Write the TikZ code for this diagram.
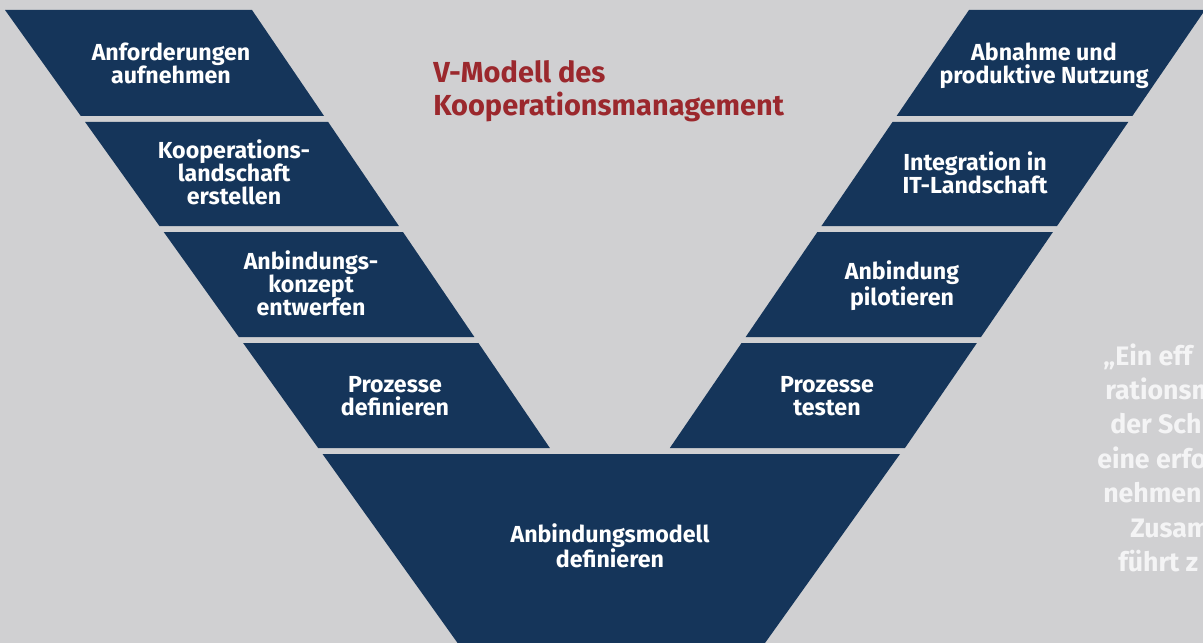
\documentclass[tikz,border=0pt]{standalone}
\usepackage{fontspec}
\setmainfont{Fira Sans}
\definecolor{vnavy}{HTML}{15355A}
\definecolor{vred}{HTML}{9B282D}
\definecolor{vgrey}{HTML}{D0D0D2}
\definecolor{vquote}{HTML}{F4F4F5}
\tikzset{
  every picture/.style={x=0.025cm, y=-0.025cm},
  block/.style={fill=vnavy},
  steptext/.style={text=white, font=\bfseries\fontsize{16.5}{16.4}\selectfont, align=center, inner sep=0pt},
  title/.style={text=vred, font=\bfseries\fontsize{20.6}{23.4}\selectfont, align=left, inner sep=0pt},
  quotetext/.style={text=vquote, font=\bfseries\fontsize{19}{24}\selectfont, inner sep=0pt, anchor=base west},
}

\begin{document}
\begin{tikzpicture}
  \useasboundingbox (0,0) rectangle (1203,643);
  \clip (0,0) rectangle (1203,643);
  \fill[vgrey] (0,0) rectangle (1203,643);
  % both legs of the V, four steps each
  \foreach \t/\b in {10/116, 122/226, 232/337, 343/448} {
    \fill[block] ({5+0.715*(\t-10)},\t) -- ({252+0.68*(\t-10)},\t)
      -- ({252+0.68*(\b-10)},\b) -- ({5+0.715*(\b-10)},\b) -- cycle;
    \fill[block] ({969-0.683*(\t-10)},\t) -- ({1205-0.685*(\t-10)},\t)
      -- ({1205-0.685*(\b-10)},\b) -- ({969-0.683*(\b-10)},\b) -- cycle;
  }
  % tip of the V
  \fill[block] (322.5,454) -- (900,454) -- (765,643) -- (457.6,643) -- cycle;
  % step labels
  \node[steptext] (l1) at (171,63) {Anforderungen\\aufnehmen};
  \node[steptext] (l2) at (234,172) {Kooperations-\\landschaft\\erstellen};
  \node[steptext] (l3) at (311,283) {Anbindungs-\\konzept\\entwerfen};
  \node[steptext] (l4) at (395,396) {Prozesse\\definieren};
  \node[steptext] (r1) at (1044,65.5) {Abnahme und\\produktive Nutzung};
  \node[steptext] (r2) at (975,173) {Integration in\\IT-Landschaft};
  \node[steptext] (r3) at (902,285.5) {Anbindung\\pilotieren};
  \node[steptext] (r4) at (827,396) {Prozesse\\testen};
  \node[steptext] (tip) at (610,546) {Anbindungsmodell\\definieren};
  % heading
  \node[title, anchor=west] (head) at (433,91) {V-Modell des\\Kooperationsmanagement};
  % quote at the right border
  \foreach \x/\y/\s [count=\k] in {1103/365/{„Ein eff}, 1105/399.3/{rationsm}, 1110/433.3/{der Sch},
      1097/468.3/{eine erfo}, 1103/502.7/{nehmen}, 1130/537.3/{Zusam}, 1118/571.7/{führt z}}
    \node[quotetext] (q\k) at (\x,\y) {\s};
\end{tikzpicture}
\end{document}
